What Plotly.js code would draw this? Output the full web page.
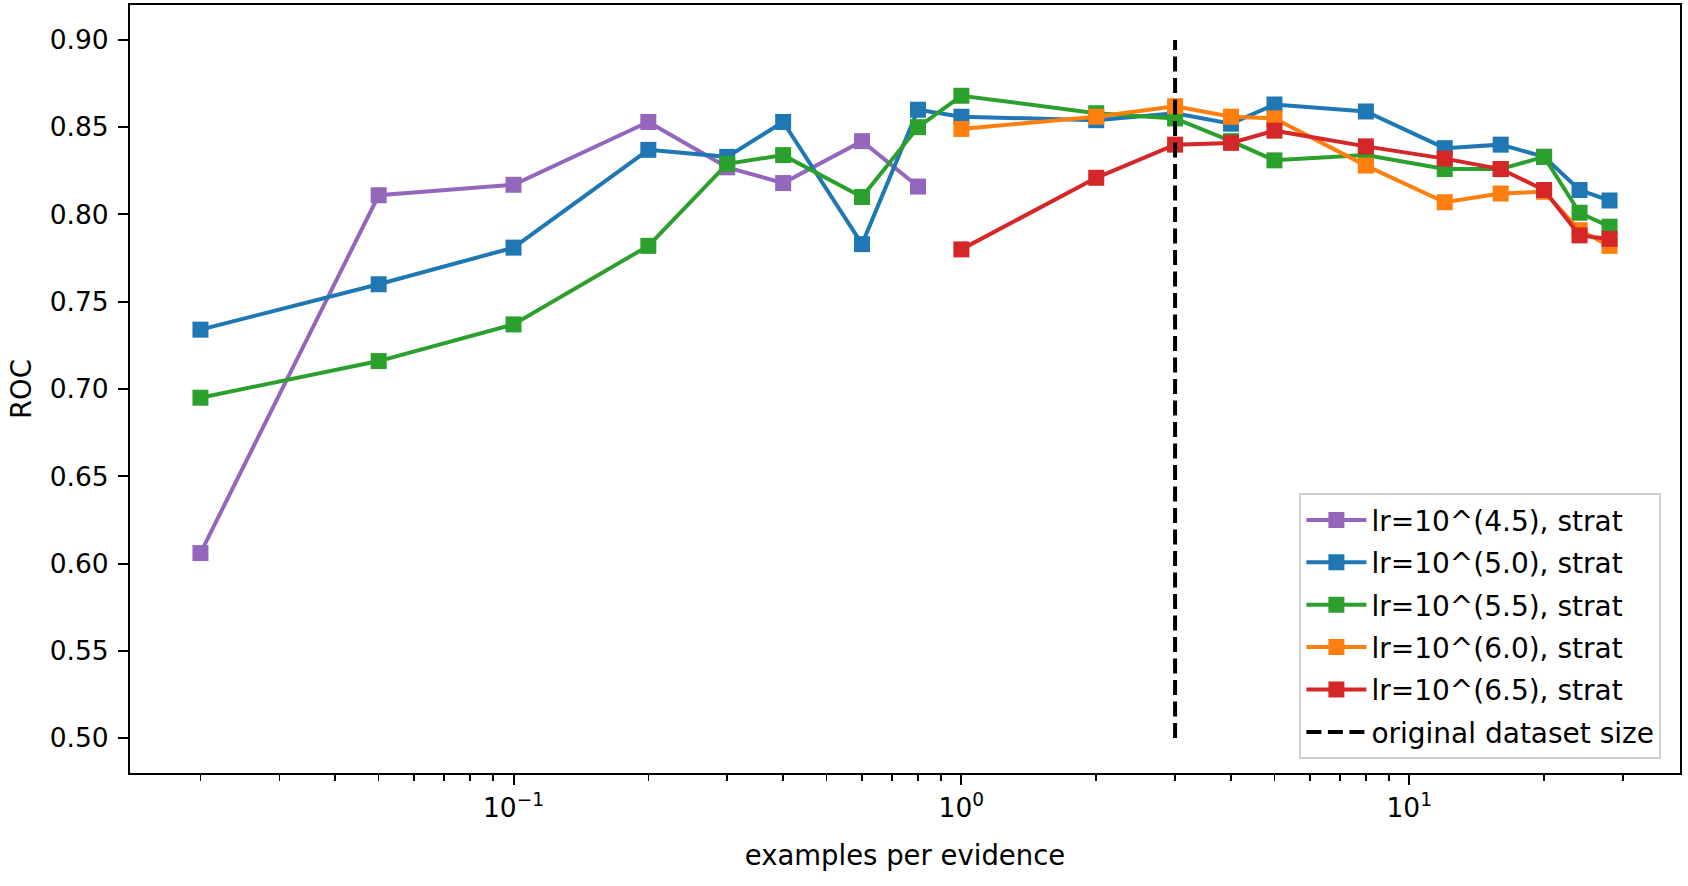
<!DOCTYPE html>
<html>
<head>
<meta charset="utf-8">
<script src="https://cdn.plot.ly/plotly-3.0.1.min.js"></script>
<style>html,body{margin:0;padding:0;background:#fff;}#chart{width:1688px;height:886px;}</style>
</head>
<body>
<div id="chart"></div>
<script>
// ---- data ----
const xAll = [0.02, 0.05, 0.1, 0.2, 0.3, 0.4, 0.6, 0.8, 1, 2, 3, 4, 5, 8, 12, 16, 20, 24, 28];
const xLow = [0.02, 0.05, 0.1, 0.2, 0.3, 0.4, 0.6, 0.8];
const xHigh = [1, 2, 3, 4, 5, 8, 12, 16, 20, 24, 28];

const roc45 = [0.606, 0.811, 0.817, 0.853, 0.827, 0.818, 0.842, 0.816];
const roc50 = [0.734, 0.760, 0.781, 0.837, 0.833, 0.853, 0.783, 0.860, 0.856, 0.854, 0.858, 0.852, 0.863, 0.859, 0.838, 0.840, 0.833, 0.814, 0.808];
const roc55 = [0.695, 0.716, 0.737, 0.782, 0.829, 0.834, 0.810, 0.850, 0.868, 0.858, 0.855, 0.842, 0.831, 0.834, 0.826, 0.826, 0.833, 0.801, 0.793];
const roc60 = [0.849, 0.856, 0.862, 0.856, 0.855, 0.828, 0.807, 0.812, 0.813, 0.791, 0.782];
const roc65 = [0.780, 0.821, 0.840, 0.841, 0.848, 0.839, 0.832, 0.826, 0.814, 0.788, 0.786];

const seriesNames = ["lr=10^(4.5), strat", "lr=10^(5.0), strat", "lr=10^(5.5), strat", "lr=10^(6.0), strat", "lr=10^(6.5), strat"];
const seriesColors = ["#9467bd", "#1f77b4", "#2ca02c", "#ff7f0e", "#d62728"];

const origSize = 3;
const origY = [0.50, 0.90];
const origName = "original dataset size";

const yTicks = [0.50, 0.55, 0.60, 0.65, 0.70, 0.75, 0.80, 0.85, 0.90];
const xMajorTicks = [0.1, 1, 10];
const xMajorText = ["10<sup>−1</sup>", "10<sup>0</sup>", "10<sup>1</sup>"];
const xMinorTicks = [0.02, 0.03, 0.04, 0.05, 0.06, 0.07, 0.08, 0.09,
                     0.2, 0.3, 0.4, 0.5, 0.6, 0.7, 0.8, 0.9,
                     2, 3, 4, 5, 6, 7, 8, 9, 20, 30];

// ---- chart ----
const font = "DejaVu Sans, Liberation Sans, sans-serif";
const xs = [xLow, xAll, xAll, xHigh, xHigh];
const ys = [roc45, roc50, roc55, roc60, roc65];
const traces = ys.map((y, i) => ({
  x: xs[i], y: y, name: seriesNames[i], type: "scatter", mode: "lines+markers",
  legendgroup: "g" + i,
  line: {color: seriesColors[i], width: 4},
  marker: {symbol: "square", size: 16, color: seriesColors[i]}
}));
traces.push({
  x: [origSize, origSize], y: origY, name: origName, type: "scatter", mode: "lines",
  legendgroup: "g5",
  line: {color: "#000", width: 4, dash: "15px,6.5px"}
});

// axis range with 5% margins in log space (matplotlib style)
const lmin = Math.log10(Math.min(...xAll)), lmax = Math.log10(Math.max(...xAll));
const pad = (lmax - lmin) * 0.05;

const layout = {
  width: 1688, height: 886,
  margin: {l: 130, r: 8, t: 5, b: 113},
  paper_bgcolor: "#fff", plot_bgcolor: "#fff",
  font: {family: font, size: 27, color: "#000"},
  showlegend: true,
  legend: {
    x: 0.988, y: 0.018, xanchor: "right", yanchor: "bottom",
    bgcolor: "rgba(255,255,255,0.8)", bordercolor: "#d0d0d0", borderwidth: 2,
    font: {family: font, size: 28, color: "#000"},
    itemwidth: 60, tracegroupgap: 3
  },
  xaxis: {
    type: "log", range: [lmin - pad, lmax + pad],
    showline: true, linecolor: "#000", linewidth: 2, mirror: true,
    showgrid: false, zeroline: false,
    ticks: "outside", ticklen: 10, tickwidth: 2, tickcolor: "#000",
    tickvals: xMajorTicks, ticktext: xMajorText,
    minor: {tickvals: xMinorTicks, ticks: "outside", ticklen: 6, tickwidth: 1.6, tickcolor: "#000", showgrid: false},
    tickfont: {family: font, size: 26.5},
    title: {text: "examples per evidence", font: {family: font, size: 27.5}, standoff: 24}
  },
  yaxis: {
    range: [0.48, 0.92],
    showline: true, linecolor: "#000", linewidth: 2, mirror: true,
    showgrid: false, zeroline: false,
    ticks: "outside", ticklen: 10, tickwidth: 2, tickcolor: "#000",
    tickvals: yTicks, tickformat: ".2f", ticklabelstandoff: 4,
    tickfont: {family: font, size: 26.5},
    title: {text: "ROC", font: {family: font, size: 27.5}, standoff: 10}
  }
};

Plotly.newPlot("chart", traces, layout, {displayModeBar: false, staticPlot: true});
</script>
</body>
</html>
